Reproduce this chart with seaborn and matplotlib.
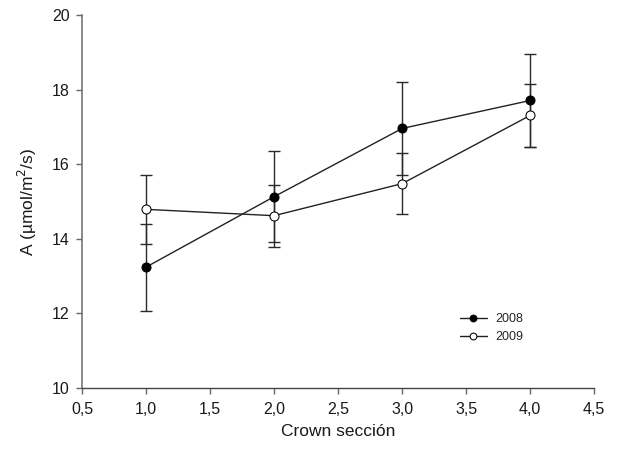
import matplotlib
matplotlib.use("Agg")
import matplotlib.pyplot as plt
import seaborn as sns
import pandas as pd
from matplotlib.ticker import FuncFormatter

sections = [1.0, 2.0, 3.0, 4.0]
a_2008 = [13.24, 15.13, 16.96, 17.71]
err_2008 = [1.17, 1.22, 1.25, 1.26]
a_2009 = [14.79, 14.62, 15.48, 17.31]
err_2009 = [0.92, 0.83, 0.82, 0.84]
years = ["2008", "2009"]
x_ticks = [0.5, 1.0, 1.5, 2.0, 2.5, 3.0, 3.5, 4.0, 4.5]
y_ticks = [10, 12, 14, 16, 18, 20]

sns.set_theme(style="ticks")
plt.rcParams['font.family'] = ['Liberation Sans', 'DejaVu Sans']

df = pd.DataFrame({
    "section": sections * 2,
    "A": a_2008 + a_2009,
    "year": [years[0]] * 4 + [years[1]] * 4,
})

fig = plt.figure(figsize=(6.19, 4.58), dpi=100)
ax = fig.add_axes([0.1325, 0.153, 0.8275, 0.814])

ax.errorbar(sections, a_2008, yerr=err_2008, fmt='none', ecolor='#2a2a2a',
            elinewidth=1.0, capsize=4, capthick=1.0, zorder=1)
ax.errorbar(sections, a_2009, yerr=err_2009, fmt='none', ecolor='#2a2a2a',
            elinewidth=1.0, capsize=4, capthick=1.0, zorder=1)

sns.lineplot(data=df[df.year == years[0]], x="section", y="A", ax=ax,
             color='#222222', linewidth=1.0, marker='o', markersize=6.5,
             markerfacecolor='black', markeredgecolor='black',
             label=years[0], zorder=3, errorbar=None)
sns.lineplot(data=df[df.year == years[1]], x="section", y="A", ax=ax,
             color='#222222', linewidth=1.0, marker='o', markersize=6.5,
             markerfacecolor='white', markeredgecolor='black',
             label=years[1], zorder=3, errorbar=None)

ax.set_xlim(0.5, 4.5)
ax.set_ylim(10, 20)
ax.set_xticks(x_ticks)
ax.set_yticks(y_ticks)
ax.xaxis.set_major_formatter(FuncFormatter(lambda v, p: f"{v:.1f}".replace('.', ',')))
ax.tick_params(axis='both', labelsize=11.5, length=4, width=1, color='#666666',
               direction='out', labelcolor='#1a1a1a')
ax.tick_params(axis='x', pad=6)
ax.tick_params(axis='y', pad=5)
for s in ['top', 'right']:
    ax.spines[s].set_visible(False)
ax.spines['left'].set_color('#777777')
ax.spines['bottom'].set_color('#444444')
ax.spines['left'].set_linewidth(1.2)
ax.spines['bottom'].set_linewidth(1.0)

ax.set_xlabel("Crown sección", fontsize=12.5, labelpad=5, color='#1a1a1a')
ax.set_ylabel("A (µmol/m$^2$/s)", fontsize=12.5, labelpad=9, color='#1a1a1a')

leg = ax.legend(loc='lower left', bbox_to_anchor=(0.715, 0.09), frameon=False,
                fontsize=9, handlelength=2.2, handletextpad=0.7,
                labelspacing=0.45, markerscale=0.75)

fig.savefig("out.png", dpi=100)
